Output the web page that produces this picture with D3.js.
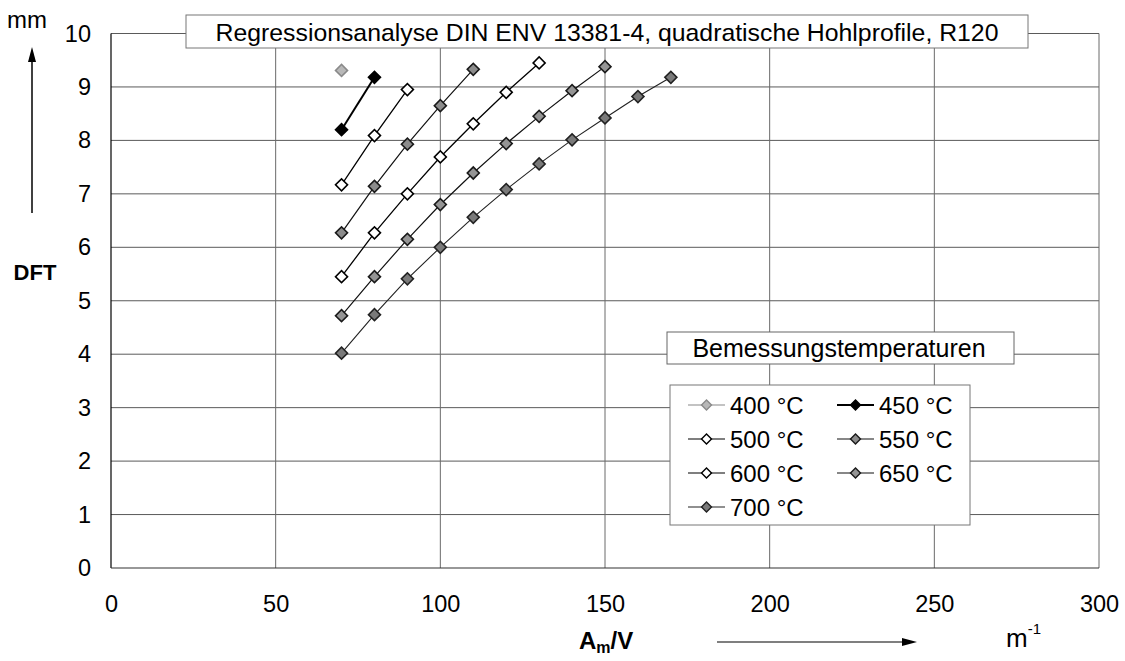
<!DOCTYPE html>
<html>
<head>
<meta charset="utf-8">
<script src="https://cdn.jsdelivr.net/npm/d3@7"></script>
<style>
  html, body { margin: 0; padding: 0; background: #fff; }
  svg { display: block; font-family: "Liberation Sans", Arial, sans-serif; }
</style>
</head>
<body>
<svg id="chart" width="1125" height="661"></svg>
<script>
// ---- data ----
const xTicks = [0, 50, 100, 150, 200, 250, 300];
const yTicks = [0, 1, 2, 3, 4, 5, 6, 7, 8, 9, 10];
const seriesNames = ["400 °C", "450 °C", "500 °C", "550 °C", "600 °C", "650 °C", "700 °C"];
const x400 = [70];
const y400 = [9.31];
const x450 = [70, 80];
const y450 = [8.20, 9.18];
const x500 = [70, 80, 90];
const y500 = [7.17, 8.09, 8.95];
const x550 = [70, 80, 90, 100, 110];
const y550 = [6.27, 7.14, 7.93, 8.65, 9.33];
const x600 = [70, 80, 90, 100, 110, 120, 130];
const y600 = [5.45, 6.27, 7.00, 7.69, 8.31, 8.90, 9.45];
const x650 = [70, 80, 90, 100, 110, 120, 130, 140, 150];
const y650 = [4.72, 5.45, 6.15, 6.80, 7.39, 7.94, 8.45, 8.93, 9.38];
const x700 = [70, 80, 90, 100, 110, 120, 130, 140, 150, 160, 170];
const y700 = [4.02, 4.74, 5.41, 6.00, 6.56, 7.08, 7.56, 8.01, 8.42, 8.82, 9.18];

const titleText = "Regressionsanalyse DIN ENV 13381-4, quadratische Hohlprofile, R120";
const legendTitle = "Bemessungstemperaturen";

// ---- styles per series ----
const styles = [
  { fill: "#b8b8b8", stroke: "#8a8a8a", lw: 1.2, lineColor: "#888" },
  { fill: "#000", stroke: "#000", lw: 2, lineColor: "#000" },
  { fill: "#fff", stroke: "#000", lw: 1.3, lineColor: "#000" },
  { fill: "#8c8c8c", stroke: "#1a1a1a", lw: 1.2, lineColor: "#111" },
  { fill: "#fff", stroke: "#000", lw: 1.3, lineColor: "#000" },
  { fill: "#959595", stroke: "#1a1a1a", lw: 1.2, lineColor: "#111" },
  { fill: "#7a7a7a", stroke: "#222", lw: 1.1, lineColor: "#222" }
];
const xs = [x400, x450, x500, x550, x600, x650, x700];
const ys = [y400, y450, y500, y550, y600, y650, y700];
const series = seriesNames.map((n, i) => ({
  name: n, style: styles[i],
  pts: xs[i].map((xv, j) => ({ x: xv, y: ys[i][j] }))
}));

const svg = d3.select("#chart");
const x = d3.scaleLinear().domain([0, 300]).range([111, 1099]);
const y = d3.scaleLinear().domain([0, 10]).range([568, 33.5]);

// gridlines
svg.append("g").selectAll("line.h").data(yTicks.filter(d => d > 0)).join("line")
  .attr("x1", x(0)).attr("x2", x(300))
  .attr("y1", d => y(d)).attr("y2", d => y(d))
  .attr("stroke", "#5a5a5a").attr("stroke-width", 1);
svg.append("g").selectAll("line.v").data(xTicks.filter(d => d > 0)).join("line")
  .attr("x1", d => x(d)).attr("x2", d => x(d))
  .attr("y1", y(0)).attr("y2", y(10))
  .attr("stroke", "#6a6a6a").attr("stroke-width", 1);

// axes lines
svg.append("line").attr("x1", x(0)).attr("x2", x(0)).attr("y1", y(0)).attr("y2", y(10))
  .attr("stroke", "#000").attr("stroke-width", 1.2);
svg.append("line").attr("x1", x(0)).attr("x2", x(300)).attr("y1", y(0)).attr("y2", y(0))
  .attr("stroke", "#333").attr("stroke-width", 1.2);

// tick labels via axes
const xAxis = d3.axisBottom(x).tickValues(xTicks).tickSize(0).tickPadding(27).tickFormat(d3.format("d"));
const gx = svg.append("g").attr("transform", `translate(0,${y(0)})`).call(xAxis);
gx.select(".domain").remove();
gx.selectAll("text").attr("font-size", "23.5px").attr("fill", "#000").attr("font-family", "Liberation Sans, Arial, sans-serif");

const yAxis = d3.axisLeft(y).tickValues(yTicks).tickSize(0).tickPadding(20).tickFormat(d3.format("d"));
const gy = svg.append("g").attr("transform", `translate(${x(0)},0)`).call(yAxis);
gy.select(".domain").remove();
gy.selectAll("text").attr("font-size", "23.5px").attr("fill", "#000").attr("font-family", "Liberation Sans, Arial, sans-serif");

// lines + markers
const line = d3.line().x(d => x(d.x)).y(d => y(d.y));
const diamond = d3.symbol().type(d3.symbolSquare).size(72);
series.forEach(s => {
  svg.append("path").datum(s.pts).attr("d", line).attr("fill", "none")
    .attr("stroke", s.style.lineColor).attr("stroke-width", s.style.lw);
  svg.append("g").selectAll("path").data(s.pts).join("path")
    .attr("d", diamond)
    .attr("transform", d => `translate(${x(d.x)},${y(d.y)}) rotate(45)`)
    .attr("fill", s.style.fill).attr("stroke", s.style.stroke).attr("stroke-width", 1.6);
});

// title box
svg.append("rect").attr("x", 186).attr("y", 15).attr("width", 842).attr("height", 33)
  .attr("fill", "#fff").attr("stroke", "#777").attr("stroke-width", 1);
svg.append("text").attr("x", 607).attr("y", 41).attr("text-anchor", "middle")
  .attr("font-size", "24.8px").text(titleText);

// legend title box
svg.append("rect").attr("x", 667).attr("y", 332).attr("width", 347).attr("height", 32)
  .attr("fill", "#fff").attr("stroke", "#666").attr("stroke-width", 1);
svg.append("text").attr("x", 839).attr("y", 357).attr("text-anchor", "middle")
  .attr("font-size", "25px").text(legendTitle);

// legend box
svg.append("rect").attr("x", 670).attr("y", 385).attr("width", 300).attr("height", 140)
  .attr("fill", "#fff").attr("stroke", "#777").attr("stroke-width", 1);
const legRows = [405, 439, 473, 507];
const legCols = [688, 837];
const legSym = d3.symbol().type(d3.symbolSquare).size(50);
series.forEach((s, i) => {
  const lx = legCols[i % 2], ly = legRows[Math.floor(i / 2)];
  const g = svg.append("g").attr("transform", `translate(${lx},${ly})`);
  g.append("line").attr("x1", 0).attr("x2", 37).attr("y1", 0).attr("y2", 0)
    .attr("stroke", s.style.lineColor).attr("stroke-width", i === 1 ? 2 : 1.2);
  g.append("path").attr("d", legSym).attr("transform", "translate(18.5,0) rotate(45)")
    .attr("fill", s.style.fill).attr("stroke", s.style.stroke).attr("stroke-width", 1.4);
  g.append("text").attr("x", 42).attr("y", 8.5).attr("font-size", "24px").text(s.name);
});

// y-axis label + arrow
svg.append("text").attr("x", 27).attr("y", 28).attr("text-anchor", "middle")
  .attr("font-size", "24px").text("mm");
svg.append("line").attr("x1", 32).attr("x2", 32).attr("y1", 213).attr("y2", 58)
  .attr("stroke", "#000").attr("stroke-width", 1.5);
svg.append("path").attr("d", "M32,47 L28,62 L36,62 Z").attr("fill", "#000");
svg.append("text").attr("x", 35).attr("y", 280).attr("text-anchor", "middle")
  .attr("font-size", "22px").attr("font-weight", "bold").text("DFT");

// x-axis label + arrow
const xl = svg.append("text").attr("x", 579).attr("y", 649).attr("font-size", "24px").attr("font-weight", "bold");
xl.append("tspan").text("A");
xl.append("tspan").attr("font-size", "16px").attr("dy", 4).text("m");
xl.append("tspan").attr("dy", -4).text("/V");
svg.append("line").attr("x1", 717).attr("x2", 905).attr("y1", 642).attr("y2", 642)
  .attr("stroke", "#000").attr("stroke-width", 1.2);
svg.append("path").attr("d", "M917,642 L902,638 L902,646 Z").attr("fill", "#000");
const mu = svg.append("text").attr("x", 1006).attr("y", 647).attr("font-size", "26px");
mu.append("tspan").text("m");
mu.append("tspan").attr("font-size", "15px").attr("dy", -13).text("-1");
</script>
</body>
</html>
